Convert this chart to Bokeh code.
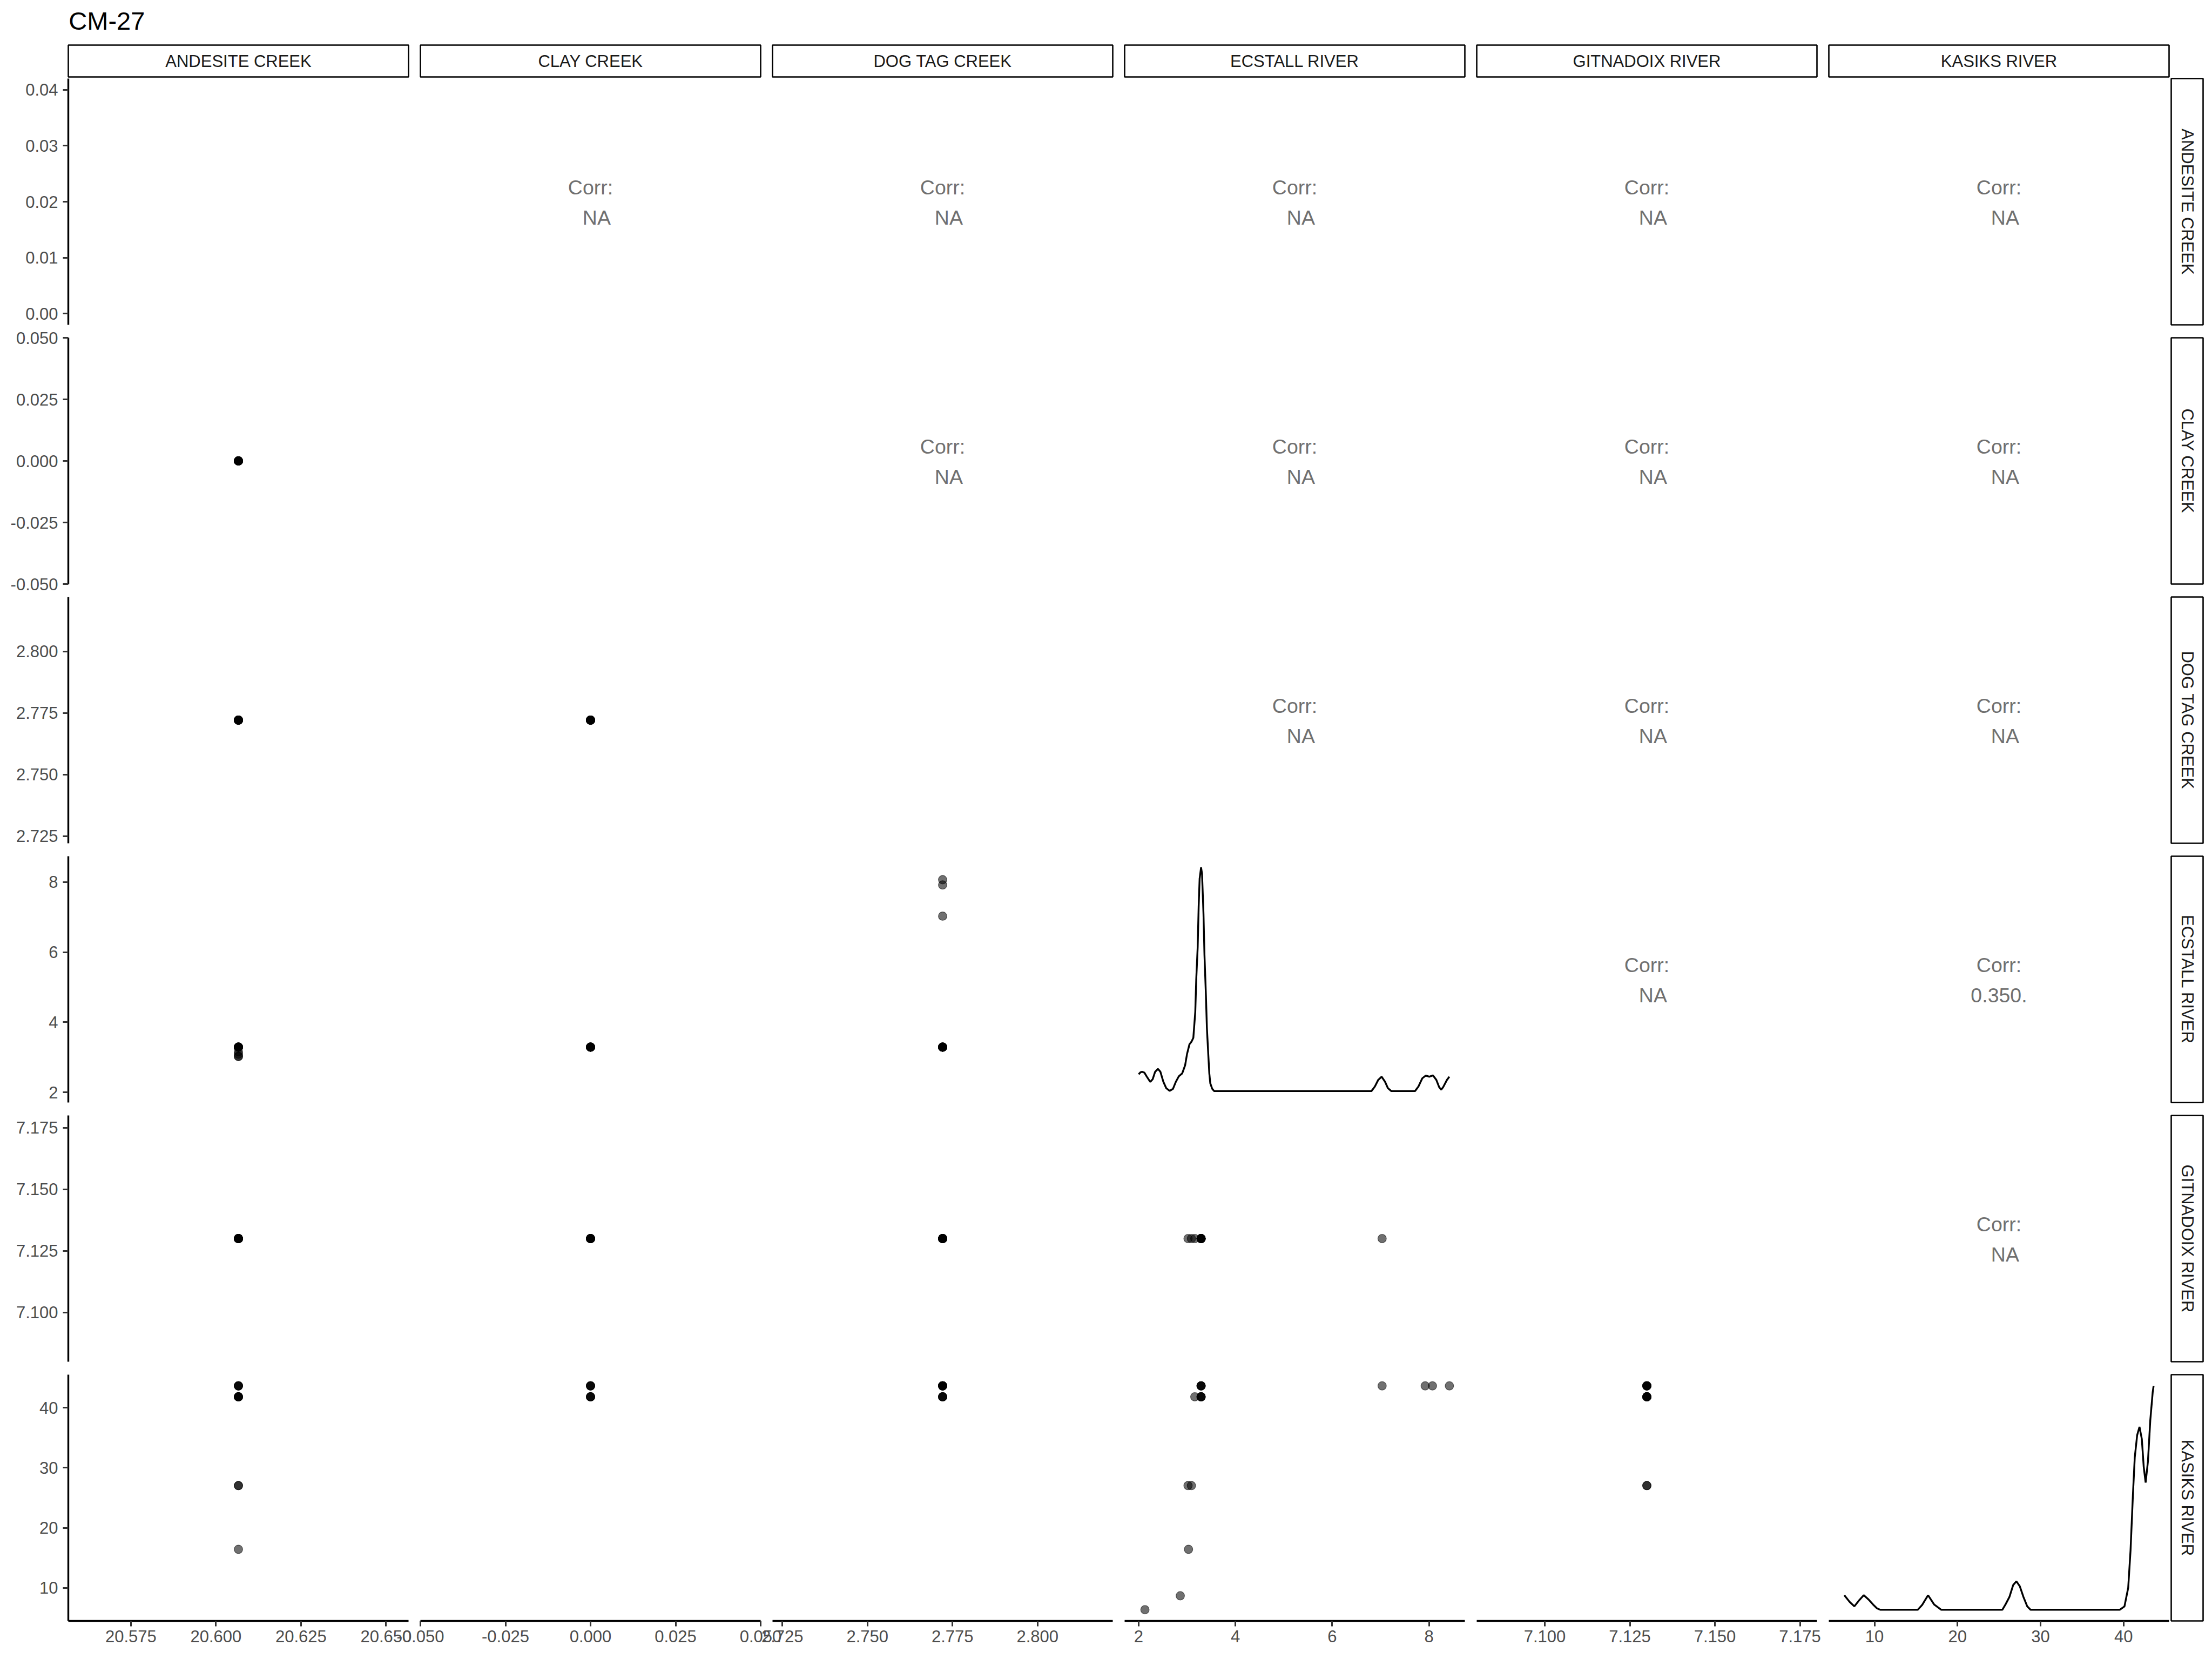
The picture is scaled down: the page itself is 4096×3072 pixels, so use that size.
import math
from bokeh.plotting import figure
from bokeh.layouts import row, column
from bokeh.models import Range1d, FixedTicker, PrintfTickFormatter, Label
from bokeh.embed import file_html
from bokeh.resources import INLINE
from bokeh.core.properties import value

FONT = "Liberation Sans"
N = None

# ---------------- data ----------------
title_text = "CM-27"
variables = ["ANDESITE CREEK", "CLAY CREEK", "DOG TAG CREEK",
             "ECSTALL RIVER", "GITNADOIX RIVER", "KASIKS RIVER"]

andesite = [20.6066, 20.6066, 20.6066, 20.6066, 20.6066, 20.6066, 20.6066, 20.6066,
            20.6066, 20.6066, 20.6066, 20.6066, N, N, N, N, N, N, N, N]
clay = [0.0, 0.0, 0.0, 0.0, 0.0, 0.0, 0.0, 0.0,
        N, N, N, N, N, N, N, N, N, N, N, N]
dog_tag = [2.7721, 2.7721, 2.7721, 2.7721, 2.7721, 2.7721, 2.7721, 2.7721,
           N, N, N, N, 2.7721, 2.7721, 2.7721, N, N, N, N, N]
ecstall = [3.29, 3.29, 3.29, 3.29, 3.29, 3.29, 3.29, 3.29,
           3.16, 3.02, 3.09, 3.03, 8.07, 7.92, 7.03, 8.42, 2.86, 2.13, 2.03, 2.40]
gitnadoix = [7.13, 7.13, 7.13, 7.13, 7.13, 7.13, 7.13, 7.13,
             7.13, 7.13, 7.13, N, N, N, 7.13, N, N, N, N, N]
kasiks = [43.62, 43.62, 43.62, 43.62, 41.80, 41.80, 41.80, 41.80,
          41.80, 27.02, 27.02, 16.41, 43.62, 43.62, 43.62, 43.62, 8.68, 6.36, N, N]

columns_data = [andesite, clay, dog_tag, ecstall, gitnadoix, kasiks]

# tick values and formats for each variable
andesite_ticks = [20.575, 20.600, 20.625, 20.650]
clay_ticks = [-0.050, -0.025, 0.000, 0.025, 0.050]
dog_tag_ticks = [2.725, 2.750, 2.775, 2.800]
ecstall_ticks = [2, 4, 6, 8]
gitnadoix_ticks = [7.100, 7.125, 7.150, 7.175]
kasiks_ticks = [10, 20, 30, 40]
var_ticks = [andesite_ticks, clay_ticks, dog_tag_ticks, ecstall_ticks, gitnadoix_ticks, kasiks_ticks]
var_formats = ["%.3f", "%.3f", "%.3f", "%d", "%.3f", "%d"]

# density axis of the (empty) ANDESITE CREEK diagonal panel
andesite_density_ticks = [0.00, 0.01, 0.02, 0.03, 0.04]
andesite_density_limits = [0.0, 0.04]

# diagonal densities (relative height)
ecstall_dens_x = [2.00, 2.04, 2.07, 2.10, 2.12, 2.17, 2.24, 2.29, 2.34, 2.40, 2.45, 2.51,
                  2.57, 2.64, 2.71, 2.77, 2.83, 2.90, 2.96, 3.00, 3.05, 3.09, 3.13, 3.17,
                  3.19, 3.22, 3.24, 3.26, 3.29, 3.31, 3.34, 3.36, 3.39, 3.41, 3.44, 3.46,
                  3.48, 3.52, 3.56, 6.81, 6.88, 6.95, 7.02, 7.09, 7.15, 7.22, 7.71, 7.78,
                  7.86, 7.93, 7.97, 8.00, 8.04, 8.08, 8.15, 8.21, 8.25, 8.29, 8.37, 8.42]
ecstall_dens_y = [0.076, 0.085, 0.087, 0.085, 0.083, 0.065, 0.042, 0.054, 0.087, 0.100, 0.087, 0.043,
                  0.014, 0.002, 0.011, 0.043, 0.067, 0.080, 0.116, 0.167, 0.210, 0.221, 0.239, 0.355,
                  0.500, 0.645, 0.826, 0.950, 1.000, 0.971, 0.790, 0.609, 0.428, 0.283, 0.159, 0.080,
                  0.036, 0.011, 0.001, 0.001, 0.021, 0.051, 0.065, 0.043, 0.014, 0.001, 0.001, 0.021,
                  0.058, 0.070, 0.068, 0.065, 0.068, 0.071, 0.051, 0.018, 0.007, 0.018, 0.051, 0.065]
kasiks_dens_x = [6.36, 7.00, 7.57, 8.10, 8.70, 9.30, 9.83, 10.30, 10.68, 15.21, 15.77, 16.45,
                 17.19, 18.04, 25.40, 25.80, 26.25, 26.70, 27.09, 27.50, 27.94, 28.40, 28.79, 39.54,
                 40.11, 40.56, 40.84, 41.13, 41.35, 41.64, 41.92, 42.20, 42.43, 42.66, 42.94, 43.22,
                 43.51, 43.62]
kasiks_dens_y = [0.065, 0.035, 0.015, 0.040, 0.065, 0.045, 0.023, 0.006, 0.000, 0.000, 0.023, 0.065,
                 0.023, 0.000, 0.000, 0.025, 0.057, 0.110, 0.127, 0.105, 0.057, 0.015, 0.000, 0.000,
                 0.015, 0.098, 0.264, 0.514, 0.680, 0.780, 0.817, 0.763, 0.638, 0.568, 0.663, 0.846,
                 0.971, 1.000]
densities = {3: (ecstall_dens_x, ecstall_dens_y), 5: (kasiks_dens_x, kasiks_dens_y)}

# correlation labels of the upper panels (row, col)
corr_values = {(0, 1): "NA", (0, 2): "NA", (0, 3): "NA", (0, 4): "NA", (0, 5): "NA",
               (1, 2): "NA", (1, 3): "NA", (1, 4): "NA", (1, 5): "NA",
               (2, 3): "NA", (2, 4): "NA", (2, 5): "NA",
               (3, 4): "NA", (3, 5): "0.350.",
               (4, 5): "NA"}

# ---------------- layout constants (pixels, already scaled) ----------------
PW, PH = 630, 456
BL, BR = 60, 60
FIRST_BL = 126
GAP = 22
OVERLAP = BL + BR - GAP
VB = 30            # vertical border of the panels (overlapped between rows)
VGAP = 24
HEADER_H = 81
STRIP_H = 59
TICK_FS = "31px"
STRIP_FS = "31px"
CORR_FS = "37.5px"
PT_SIZE = 15.7
PT_ALPHA = 0.56


def limits(vals):
    v = [x for x in vals if x is not None]
    lo, hi = min(v), max(v)
    if hi - lo < 1e-12:
        return lo - 0.05, hi + 0.05
    pad = 0.05 * (hi - lo)
    return lo - pad, hi + pad


def expand(lo, hi):
    pad = 0.05 * (hi - lo)
    return lo - pad, hi + pad


var_limits = [limits(c) for c in columns_data]


def style_axis(ax, ticks, fmt, standoff):
    ax.ticker = FixedTicker(ticks=ticks)
    ax.formatter = PrintfTickFormatter(format=fmt)
    ax.axis_line_color = "black"
    ax.axis_line_width = 3.4
    ax.major_tick_line_color = "#333333"
    ax.major_tick_line_width = 3
    ax.major_tick_out = 10
    ax.major_tick_in = 0
    ax.minor_tick_line_color = None
    ax.major_label_text_font = FONT
    ax.major_label_text_font_size = TICK_FS
    ax.major_label_text_color = "#4D4D4D"
    ax.major_label_standoff = standoff


def base_fig(**kw):
    p = figure(output_backend="svg", toolbar_location=None, **kw)
    p.grid.visible = False
    p.outline_line_color = None
    p.background_fill_color = "white"
    p.border_fill_alpha = 0
    return p


header = base_fig(width=4096, height=HEADER_H, x_range=(0, 1), y_range=(0, 1),
                  x_axis_location=None, y_axis_location=None, min_border=0)
header.add_layout(Label(x=126.8, y=HEADER_H - 38, x_units="screen", y_units="screen",
                        text=title_text, text_font=FONT, text_font_size="47px",
                        text_color="black", text_baseline="alphabetic"))

# top strips
strip_figs = []
for j, name in enumerate(variables):
    s = base_fig(frame_width=PW, frame_height=STRIP_H, x_range=(0, 1), y_range=(0, 1),
                 x_axis_location=None, y_axis_location=None,
                 min_border_left=FIRST_BL if j == 0 else BL, min_border_right=BR,
                 min_border_top=2, min_border_bottom=2)
    s.outline_line_color = "black"
    s.outline_line_width = 2.6
    s.text(x=[0.5], y=[0.5], text=[name], text_align="center", text_baseline="middle",
           text_font=value(FONT), text_font_size=STRIP_FS, text_color="#1A1A1A")
    if j > 0:
        s.margin = (0, 0, 0, -OVERLAP)
    strip_figs.append(s)

rows = [header, row(*strip_figs)]

for i in range(6):
    bt = VB
    bb = 71 if i == 5 else VB
    figs = []
    for j in range(6):
        lower_or_diag = j <= i
        if lower_or_diag:
            xr = Range1d(*var_limits[j])
            if i == j:
                if i == 0:
                    yr = Range1d(*expand(*andesite_density_limits))
                else:
                    yr = Range1d(-0.05, 1.05)
            else:
                yr = Range1d(*var_limits[i])
        else:
            xr = Range1d(0, 1)
            yr = Range1d(0, 1)
        p = base_fig(frame_width=PW, frame_height=PH, x_range=xr, y_range=yr,
                     x_axis_location="below" if i == 5 else None,
                     y_axis_location="left" if j == 0 else None,
                     min_border_left=FIRST_BL if j == 0 else BL, min_border_right=BR,
                     min_border_top=bt, min_border_bottom=bb)
        if i == 5:
            style_axis(p.xaxis[0], var_ticks[j], var_formats[j], 7)
        if j == 0:
            if i == 0:
                style_axis(p.yaxis[0], andesite_density_ticks, "%.2f", 9)
            else:
                style_axis(p.yaxis[0], var_ticks[i], var_formats[i], 9)

        if j < i:
            xs, ys = [], []
            for a, b in zip(columns_data[j], columns_data[i]):
                if a is not None and b is not None:
                    xs.append(a)
                    ys.append(b)
            p.scatter(xs, ys, size=PT_SIZE, fill_color="black", fill_alpha=PT_ALPHA,
                      line_color="black", line_alpha=PT_ALPHA, line_width=1.2)
        elif i == j:
            if i in densities:
                dx, dy = densities[i]
                p.line(dx, dy, line_color="black", line_width=3.4)
        else:
            val = corr_values[(i, j)]
            p.text(x=[0.5], y=[0.5], text=["Corr:"], text_align="center",
                   text_baseline="alphabetic", y_offset=-27,
                   text_font=value(FONT), text_font_size=CORR_FS, text_color="#707070")
            p.text(x=[0.5], y=[0.5], text=[val], text_align="center",
                   text_baseline="alphabetic", y_offset=29.5,
                   x_offset=11.4 if val == "NA" else 0,
                   text_font=value(FONT), text_font_size=CORR_FS, text_color="#707070")
        if j > 0:
            p.margin = (0, 0, 0, -OVERLAP)
        figs.append(p)

    rs = base_fig(frame_width=STRIP_H, frame_height=PH, x_range=(0, 1), y_range=(0, 1),
                  x_axis_location=None, y_axis_location=None,
                  min_border_left=3, min_border_right=3, min_border_top=bt, min_border_bottom=bb)
    rs.outline_line_color = "black"
    rs.outline_line_width = 2.6
    rs.text(x=[0.5], y=[0.5], text=[variables[i]], angle=-math.pi / 2,
            text_align="center", text_baseline="middle",
            text_font=value(FONT), text_font_size=STRIP_FS, text_color="#1A1A1A")
    rs.margin = (0, 0, 0, -(BR - 4 + 3))
    figs.append(rs)
    r = row(*figs)
    if i == 0:
        r.margin = (-(VB - 1), 0, 0, 0)
    else:
        r.margin = (-(2 * VB - VGAP), 0, 0, 0)
    rows.append(r)

layout = column(*rows)
open("out.html", "w").write(file_html(layout, INLINE))
